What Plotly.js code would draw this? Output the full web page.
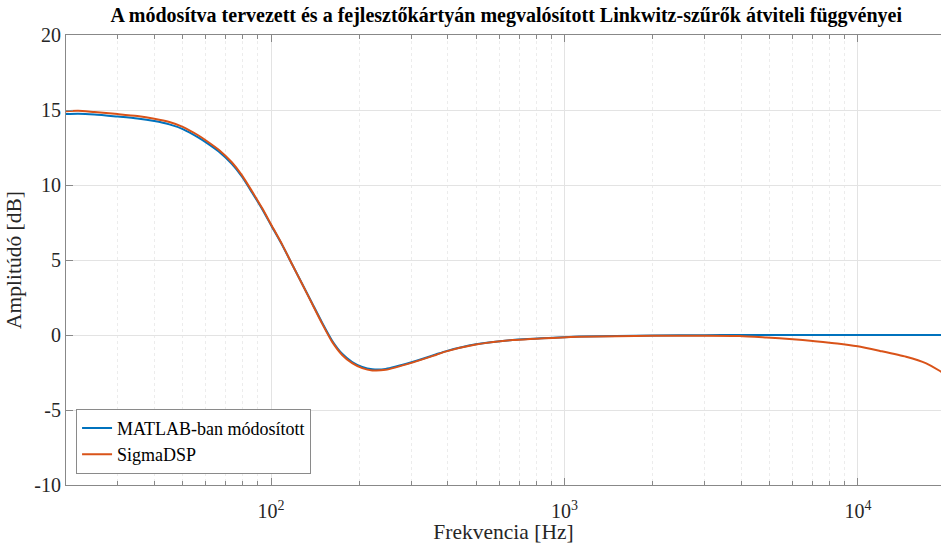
<!DOCTYPE html>
<html>
<head>
<meta charset="utf-8">
<script src="https://cdn.plot.ly/plotly-3.0.1.min.js"></script>
<style>
  html, body { margin: 0; padding: 0; background: #ffffff; }
  #chart { width: 941px; height: 544px; }
</style>
</head>
<body>
<div id="chart"></div>
<script>
// Frequency points (Hz) shared by both responses
const freqHz = [20, 22, 25, 30, 35, 40, 45, 50, 56.6, 60, 66.3, 73.6, 79.6, 86.1, 93.2, 100, 109, 117.9,
  127.6, 138, 149.3, 161.5, 174.7, 189, 204.5, 221.3, 245.7, 303, 364, 393, 499, 665, 987, 1123, 1500,
  2000, 3000, 3960, 4880, 6000, 7020, 8500, 9980, 11900, 14600, 17100, 19200, 20000];

// Linkwitz filter as modified in MATLAB (dB)
const matlabDb = [14.73, 14.75, 14.7, 14.56, 14.43, 14.26, 14.04, 13.73, 13.16, 12.84, 12.23, 11.39, 10.55,
  9.5, 8.4, 7.32, 6.02, 4.72, 3.42, 2.12, 0.82, -0.38, -1.25, -1.8, -2.13, -2.28, -2.26, -1.8, -1.3,
  -1.09, -0.62, -0.33, -0.15, -0.1, -0.06, -0.03, -0.01, 0, 0, 0, 0, 0, 0, 0, 0, 0, 0, 0];

// Same filter running on the SigmaDSP board (dB)
const sigmaDb = [14.92, 14.95, 14.86, 14.73, 14.6, 14.42, 14.2, 13.88, 13.3, 12.97, 12.35, 11.5, 10.64,
  9.58, 8.46, 7.37, 6.04, 4.72, 3.4, 2.08, 0.76, -0.46, -1.33, -1.88, -2.21, -2.36, -2.32, -1.84, -1.33,
  -1.11, -0.64, -0.34, -0.16, -0.12, -0.08, -0.05, -0.05, -0.07, -0.17, -0.28, -0.4, -0.56, -0.75, -1.06,
  -1.45, -1.89, -2.44, -2.65];

const seriesNames = ['MATLAB-ban módosított', 'SigmaDSP'];
const seriesColors = ['#0072BD', '#D95319'];

const xTickVals = [100, 1000, 10000];
const xTickText = ['10<sup>2</sup>', '10<sup>3</sup>', '10<sup>4</sup>'];
const yTickVals = [-10, -5, 0, 5, 10, 15, 20];
const yTickText = ['-10', '-5', '0', '5', '10', '15', '20'];

const serif = 'Liberation Serif';

const traces = [matlabDb, sigmaDb].map((vals, i) => ({
  type: 'scatter',
  mode: 'lines',
  x: freqHz,
  y: vals,
  name: seriesNames[i],
  line: { color: seriesColors[i], width: 2, shape: 'spline', smoothing: 0.6 }
}));

const layout = {
  width: 941,
  height: 544,
  margin: { l: 66, r: 0, t: 35, b: 59 },
  paper_bgcolor: '#ffffff',
  plot_bgcolor: '#ffffff',
  font: { family: serif, color: '#262626', size: 20 },
  title: {
    text: 'A módosítva tervezett és a fejlesztőkártyán megvalósított Linkwitz-szűrők átviteli függvényei',
    font: { family: serif, size: 20, weight: 'bold', color: '#000000' },
    x: 0.538, xanchor: 'center', y: 0.972, yanchor: 'middle'
  },
  xaxis: {
    type: 'log',
    range: [Math.log10(20), Math.log10(19200)],
    tickmode: 'array',
    tickvals: xTickVals,
    ticktext: xTickText,
    ticks: 'inside',
    ticklen: 7,
    tickcolor: '#888888',
    ticklabelstandoff: 8,
    showline: true,
    linecolor: '#888888',
    linewidth: 1,
    mirror: 'ticks',
    showgrid: true,
    gridcolor: '#e3e3e3',
    gridwidth: 1,
    zeroline: false,
    tickfont: { family: serif, size: 20, color: '#262626' },
    minor: {
      tickmode: 'linear',
      dtick: 'D1',
      ticks: 'inside',
      ticklen: 4,
      tickcolor: '#888888',
      showgrid: true,
      gridcolor: '#ececec',
      griddash: 'dot',
      gridwidth: 1
    },
    title: { text: 'Frekvencia [Hz]', font: { family: serif, size: 21.5, color: '#262626' }, standoff: 4 }
  },
  yaxis: {
    range: [-10, 20],
    automargin: true,
    tickmode: 'array',
    tickvals: yTickVals,
    ticktext: yTickText,
    ticks: 'inside',
    ticklen: 7,
    tickcolor: '#888888',
    showline: true,
    linecolor: '#888888',
    linewidth: 1,
    mirror: false,
    showgrid: true,
    gridcolor: '#e3e3e3',
    gridwidth: 1,
    zeroline: false,
    tickfont: { family: serif, size: 20, color: '#262626' },
    title: { text: 'Amplitúdó [dB]', font: { family: serif, size: 21.5, color: '#262626' }, standoff: 6 }
  },
  showlegend: true,
  legend: {
    x: 0.0115, xanchor: 'left',
    y: 0.025, yanchor: 'bottom',
    bgcolor: '#ffffff',
    bordercolor: '#8a8a8a',
    borderwidth: 1,
    font: { family: serif, size: 18, color: '#000000' },
    itemwidth: 30,
    tracegroupgap: 0
  }
};

Plotly.newPlot('chart', traces, layout, { displayModeBar: false, staticPlot: true });
</script>
</body>
</html>
